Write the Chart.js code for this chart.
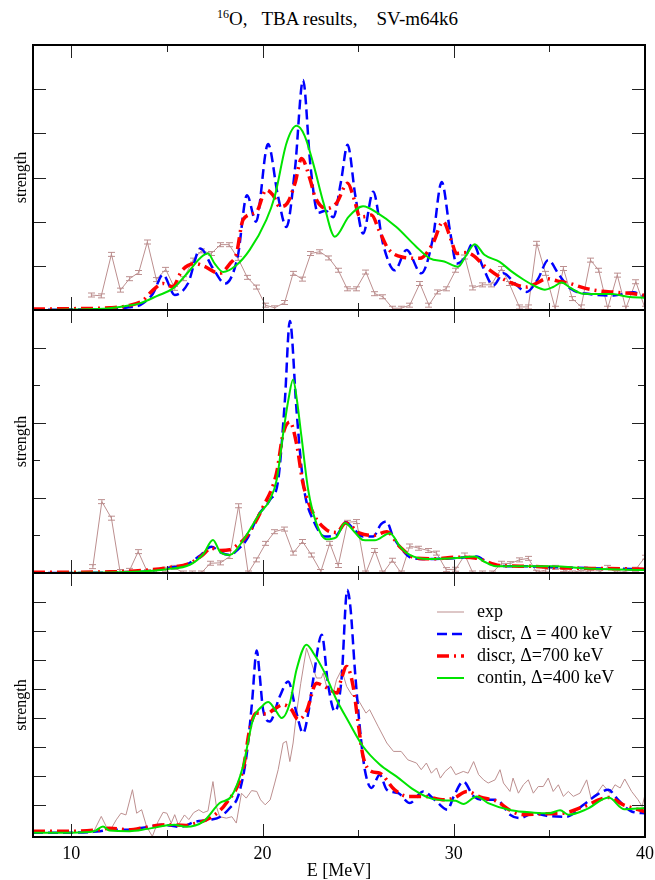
<!DOCTYPE html>
<html>
<head>
<meta charset="utf-8">
<script src="https://cdn.jsdelivr.net/npm/chart.js@4.4.0/dist/chart.umd.min.js"></script>
<style>
  body { margin: 0; background: #fff; }
  #wrap { position: relative; width: 655px; height: 880px; }
  #wrap canvas { position: absolute; left: 0; top: 0; }
  #title {
    position: absolute; left: 217px; top: 7px; white-space: pre;
    font: 19px "Liberation Serif", "Times New Roman", serif; color: #000;
  }
  #title sup { font-size: 12px; }
</style>
</head>
<body>
<div id="wrap">
  <div id="title"><sup>16</sup>O,   TBA results,    SV-m64k6</div>
  <canvas id="pTop" width="655" height="880"></canvas>
  <canvas id="pMid" width="655" height="880"></canvas>
  <canvas id="pBot" width="655" height="880"></canvas>
</div>
<script>
// axis ticks (MeV)
const xMajor = [10, 20, 30];
const xMinor = [15, 25, 35];
const xTickLabels = [10, 20, 30, 40];

// ---- top panel: [E, strength] ----
const topExp = [[11.05,0.34],[11.57,0.32],[12.1,1.26],[12.57,0.45],[13.05,0.71],[13.53,0.85],[13.98,1.54],[14.45,0.69],[14.94,0.92],[15.41,0.49],
  [15.87,0.71],[16.37,1.13],[16.8,1.34],[17.33,1.28],[17.8,1.48],[18.25,1.48],[18.72,1.17],[19.2,0.74],[19.68,0.52],[20.15,0.11],
  [20.64,0.05],[21.16,0.17],[21.6,0.83],[22.07,0.7],[22.53,1.28],[23.0,1.32],[23.47,1.18],[23.96,0.9],[24.43,0.48],[24.9,0.48],
  [25.41,0.86],[25.87,0.37],[26.3,0.3],[26.8,0.04],[27.25,0.04],[27.7,0.11],[28.23,0.6],[28.7,0.11],[29.15,0.41],[29.6,0.48],
  [30.1,0.9],[30.58,1.2],[31.0,0.5],[31.5,0.57],[31.95,0.57],[32.5,0.94],[32.9,0.6],[33.43,0.07],[33.9,0.07],[34.34,1.51],
  [34.8,0.83],[35.3,0.04],[35.73,0.94],[36.2,0.26],[36.66,0.07],[37.15,1.13],[37.58,0.9],[38.05,0.04],[38.55,0.79],[39.0,0.04],
  [39.52,0.64],[40.0,0.04]];
const topDiscr400 = [[8,0],[10,0.01],[12,0.02],[13,0.06],[13.6,0.11],[14.27,0.37],[14.8,0.8],[15.41,0.34],[16.1,0.6],[16.75,1.39],
  [17.4,0.95],[18.05,0.6],[18.7,1.2],[19.19,2.6],[19.66,2.0],[20.29,3.76],[20.8,2.6],[21.25,1.88],[21.7,3.2],[22.12,5.21],
  [22.5,3.3],[22.9,2.2],[23.3,2.25],[23.7,2.1],[24.1,2.9],[24.45,3.74],[24.85,2.6],[25.26,1.73],[25.79,2.68],[26.3,1.5],
  [26.92,0.9],[27.53,1.36],[28.3,0.83],[28.9,1.6],[29.37,2.9],[29.8,1.8],[30.15,1.05],[30.6,1.2],[31.0,1.51],[31.5,1.0],
  [32.07,0.56],[32.6,0.83],[33.2,0.6],[33.8,0.41],[34.4,0.7],[34.94,1.13],[35.5,0.8],[36.08,0.49],[37.1,0.36],[38.35,0.33],
  [39.4,0.4],[40,0.3]];
const topDiscr700 = [[8,0.02],[10,0.03],[12,0.05],[13,0.1],[13.75,0.22],[14.27,0.45],[14.8,0.6],[15.3,0.53],[15.8,0.9],[16.5,1.05],
  [16.9,1.0],[17.76,0.83],[18.3,1.05],[18.64,1.28],[18.98,2.04],[19.68,2.22],[20.2,2.72],[20.55,2.6],[20.9,2.34],[21.3,2.42],
  [21.7,2.87],[22.04,3.43],[22.5,2.94],[22.74,2.57],[23.35,2.3],[23.87,2.42],[24.45,2.87],[24.8,2.5],[25.09,2.11],[25.4,2.12],
  [25.7,2.15],[26.1,1.8],[26.57,1.39],[27.3,1.2],[28.23,1.17],[28.9,1.5],[29.45,2.0],[29.85,1.6],[30.15,1.28],[30.6,1.3],
  [31.0,1.24],[31.6,1.0],[32.4,0.75],[33.1,0.6],[33.8,0.52],[34.3,0.6],[34.86,0.71],[35.4,0.66],[36.08,0.6],[36.8,0.5],
  [37.48,0.44],[38.5,0.4],[39.4,0.37],[40,0.33]];
const topContin = [[8,0],[10,0.01],[12,0.04],[13,0.1],[13.58,0.15],[14.5,0.32],[15.32,0.49],[16.1,0.85],[16.8,1.2],[17.15,1.28],
  [17.5,1.05],[17.94,0.86],[18.6,1.0],[19.33,1.36],[20.2,2.04],[20.64,2.57],[21.25,3.77],[21.78,4.17],[22.2,3.95],[22.65,3.32],
  [23.2,2.41],[23.78,1.66],[24.5,2.11],[25.26,2.35],[26.0,2.2],[27.0,1.88],[28.0,1.45],[28.75,1.17],[29.5,1.1],[30.23,0.98],
  [30.6,1.2],[31.1,1.49],[31.6,1.25],[32.4,1.09],[33.0,0.88],[33.64,0.69],[34.2,0.55],[34.77,0.46],[35.2,0.52],[35.64,0.62],
  [36.1,0.5],[36.77,0.37],[38.3,0.36],[39.1,0.3],[40,0.28]];

// ---- middle panel ----
const midExp = [[11.13,0.17],[11.6,1.9],[12.1,1.46],[12.55,0.04],[13.05,0.07],[13.5,0.57],[13.97,0.04],[14.45,0.06],[14.94,0.1],[15.4,0.15],
  [15.85,0.0],[16.33,0.0],[16.8,0.0],[17.27,0.26],[17.8,0.27],[18.29,0.44],[18.75,1.79],[19.25,0.0],[19.68,0.35],[20.17,0.79],
  [20.64,1.1],[21.13,1.17],[21.6,0.53],[22.09,0.84],[22.56,0.48],[23.05,0.04],[23.52,0.79],[23.96,0.2],[24.45,1.35],[24.92,1.37],
  [25.4,0.0],[25.87,0.6],[26.3,0.0],[26.79,0.34],[27.25,0.0],[27.7,0.72],[28.18,0.66],[28.66,0.6],[29.1,0.53],[29.6,0.09],
  [30.1,0.1],[30.58,0.48],[31.0,0.0],[31.5,0.0],[32.0,0.0],[32.5,0.26],[32.95,0.25],[33.43,0.35],[33.9,0.39],[34.33,0.02],
  [34.8,0.08],[35.3,0.15],[35.75,0.09],[36.2,0.0],[36.65,0.08],[37.15,0.02],[37.6,0.02],[38.05,0.15],[38.55,0.0],[39.0,0.05],
  [39.52,0.1],[40.0,0.42]];
const midDiscr400 = [[8,0],[12,0.01],[14,0.05],[14.97,0.13],[16.0,0.22],[16.7,0.45],[17.33,0.7],[17.8,0.55],[18.29,0.48],[18.7,0.62],
  [19.16,0.88],[19.8,1.55],[20.38,1.94],[20.82,2.47],[21.17,4.59],[21.43,6.71],[21.78,4.33],[22.0,3.0],[22.21,2.12],[22.65,1.41],
  [23.26,0.97],[23.87,1.01],[24.35,1.35],[24.8,1.15],[25.26,0.97],[25.78,0.97],[26.2,1.3],[26.49,1.37],[26.8,1.0],[27.18,0.7],
  [27.8,0.4],[28.66,0.37],[29.5,0.38],[30.15,0.4],[30.7,0.42],[31.2,0.44],[31.7,0.3],[32.2,0.2],[33.5,0.18],[35,0.16],
  [37,0.13],[40,0.1]];
const midDiscr700 = [[8,0.02],[12,0.03],[14,0.08],[15.15,0.15],[16.2,0.26],[16.8,0.45],[17.33,0.66],[17.8,0.6],[18.29,0.62],[18.7,0.75],
  [19.16,0.97],[20.03,1.76],[20.73,2.65],[21.08,3.71],[21.43,4.02],[21.78,3.44],[22.12,2.38],[22.65,1.59],[23.35,1.15],[23.87,1.08],
  [24.35,1.33],[25.09,1.06],[25.8,1.0],[26.49,1.1],[27.18,0.7],[28.0,0.4],[29,0.38],[30.15,0.42],[31.1,0.4],[32.4,0.2],
  [33.8,0.18],[36,0.13],[38,0.12],[40,0.1]];
const midContin = [[8,0],[12,0.01],[14,0.05],[15,0.1],[16.2,0.22],[16.9,0.5],[17.41,0.88],[17.8,0.55],[18.29,0.48],[19.0,0.88],
  [19.86,1.59],[20.38,1.94],[20.75,2.5],[21.08,3.71],[21.35,4.6],[21.6,5.15],[21.8,4.6],[22.04,3.62],[22.39,2.21],[22.82,1.32],
  [23.35,0.9],[23.85,0.95],[24.31,1.33],[24.8,1.1],[25.26,0.88],[25.87,0.87],[26.66,1.06],[27.2,0.7],[27.7,0.48],[28.66,0.37],
  [30.15,0.4],[31.1,0.44],[31.6,0.3],[32.2,0.18],[35,0.18],[37.4,0.11],[40,0.08]];

// ---- bottom panel ----
const botExp = [[11.13,0.03],[11.57,0.61],[11.83,0.26],[12.1,0.2],[12.35,0.49],[12.6,0.72],[12.86,0.66],[13.2,1.53],[13.42,0.72],[13.68,0.84],
  [13.94,0.26],[14.24,-0.08],[14.54,0.43],[14.8,0.75],[15.0,0.72],[15.23,0.38],[15.41,0.67],[15.6,0.32],[15.92,0.66],[16.15,0.5],
  [16.4,0.74],[16.67,0.84],[16.9,0.74],[17.15,0.8],[17.41,1.81],[17.59,0.95],[17.76,0.6],[18.11,0.55],[18.4,0.6],[18.63,0.38],
  [18.9,1.41],[19.15,1.24],[19.43,1.5],[19.7,1.47],[19.9,1.18],[20.14,1.01],[20.4,1.18],[20.64,1.76],[20.82,2.22],[21.08,3.14],
  [21.25,3.2],[21.43,2.5],[21.6,3.14],[21.78,4.17],[22.0,5.2],[22.3,6.41],[22.56,5.9],[22.82,5.38],[23.08,5.38],[23.17,5.55],
  [23.35,5.09],[23.7,4.86],[23.87,5.32],[24.14,5.67],[24.4,5.09],[24.67,4.8],[24.93,4.69],[25.1,4.52],[25.41,4.17],[25.6,4.29],
  [26.04,3.72],[26.5,3.14],[26.85,2.85],[27.25,2.85],[27.6,2.56],[28.05,2.45],[28.3,2.22],[28.57,2.45],[28.83,2.1],[29.1,2.28],
  [29.3,1.93],[29.55,2.16],[29.85,2.33],[30.1,2.05],[30.5,2.16],[30.75,2.1],[31.04,2.5],[31.3,2.05],[31.56,1.87],[31.8,1.76],
  [32.16,1.87],[32.42,2.22],[32.6,1.76],[32.94,1.47],[33.1,1.93],[33.38,1.41],[33.64,1.7],[33.9,1.87],[34.16,1.41],[34.42,1.64],
  [34.68,1.64],[34.94,1.93],[35.2,1.47],[35.47,1.7],[35.73,1.3],[35.99,1.47],[36.25,1.3],[36.6,1.41],[36.95,1.87],[37.2,1.18],
  [37.56,1.47],[37.8,1.7],[38.17,1.41],[38.43,1.7],[38.7,1.59],[38.94,1.9],[39.3,1.47],[39.64,1.18],[39.85,0.95],[40.0,1.36]];
const botDiscr400 = [[8,0.05],[10,0.05],[11.5,0.1],[12,0.15],[13,0.15],[14,0.25],[14.8,0.32],[15.7,0.25],[16.5,0.43],[17.24,0.49],
  [17.8,0.6],[18.29,0.9],[18.72,1.3],[19.16,2.68],[19.45,4.52],[19.7,6.33],[19.85,5.5],[20.03,4.29],[20.38,3.88],[20.9,4.74],
  [21.34,5.26],[21.78,4.17],[22.12,3.48],[22.4,4.2],[22.65,5.32],[23.1,6.87],[23.43,5.15],[23.78,4.23],[24.13,5.32],[24.43,8.42],
  [24.6,7.8],[24.83,5.67],[25.1,3.6],[25.35,2.22],[25.7,1.59],[26.13,2.05],[26.5,1.53],[27.1,1.41],[27.7,1.07],[28.4,1.47],
  [29.0,1.18],[29.67,0.84],[30.0,1.3],[30.5,1.81],[31.04,1.3],[31.6,1.18],[32.25,1.18],[32.94,0.67],[33.46,0.55],[34.16,0.72],
  [34.85,0.63],[35.9,0.6],[36.77,1.0],[37.5,1.36],[38.08,1.53],[38.6,1.18],[39.3,0.78],[40,0.72]];
const botDiscr700 = [[8,0.1],[10,0.1],[11.5,0.15],[12,0.2],[13,0.15],[14,0.25],[15,0.32],[16,0.3],[16.5,0.37],[17.24,0.55],
  [18.11,1.07],[18.98,2.22],[19.33,3.6],[19.68,4.17],[20.2,4.14],[20.6,4.3],[21.08,4.46],[21.5,4.3],[21.87,3.95],[22.3,4.23],
  [22.82,5.2],[23.2,5.1],[23.52,4.98],[23.9,4.86],[24.1,5.3],[24.4,5.78],[24.74,5.09],[25.0,3.83],[25.26,2.68],[25.7,2.16],
  [26.13,2.1],[26.9,1.53],[27.6,1.3],[28.44,1.3],[29.5,1.18],[30.0,1.24],[30.7,1.47],[31.4,1.27],[32.25,1.13],[32.94,0.82],
  [33.64,0.67],[34.6,0.7],[35.73,0.72],[36.8,0.95],[38.1,1.26],[38.9,1.0],[40,0.78]];
const botContin = [[8,0.05],[10,0.05],[11.2,0.1],[11.66,0.26],[12.0,0.12],[13.05,0.1],[14.0,0.18],[15.4,0.32],[16.0,0.25],[16.9,0.43],
  [17.76,1.07],[18.37,1.3],[18.98,2.33],[19.5,3.94],[20.0,4.42],[20.3,4.55],[20.65,4.3],[21.0,4.0],[21.43,4.52],[21.78,5.67],
  [22.3,6.53],[22.7,6.2],[23.17,5.67],[23.87,4.63],[24.48,3.9],[25.26,3.02],[26.13,2.4],[27.0,1.99],[27.9,1.53],[28.75,1.24],
  [29.6,1.16],[30.1,1.15],[30.5,1.04],[31.2,1.3],[31.8,1.07],[33.0,0.82],[34.2,0.74],[35.0,0.72],[35.56,0.82],[36.0,0.67],
  [36.95,0.86],[38.1,1.26],[38.9,0.86],[40,0.9]];

const legendLabels = ['exp', 'discr, \u0394 = 400 keV', 'discr, \u0394=700 keV', 'contin, \u0394=400 keV'];

const SERIF = '"Liberation Serif", "Times New Roman", serif';
const EXP_COLOR = '#bc8f8f';

// little "I" shaped error-bar marker for the exp points
function capMarker(color) {
  const c = document.createElement('canvas');
  c.width = 7; c.height = 7;
  const g = c.getContext('2d');
  g.strokeStyle = color;
  g.lineWidth = 1;
  g.beginPath();
  g.moveTo(0, 1.5); g.lineTo(7, 1.5);
  g.moveTo(0, 5.5); g.lineTo(7, 5.5);
  g.moveTo(3.5, 1.5); g.lineTo(3.5, 5.5);
  g.stroke();
  return c;
}
const capImg = capMarker(EXP_COLOR);

const toXY = arr => arr.map(p => ({ x: p[0], y: p[1] }));

function seriesSets(exp, d400, d700, cont, markers) {
  return [
    { label: legendLabels[3], data: toXY(cont), borderColor: '#00e400', borderWidth: 2,
      pointRadius: 0, cubicInterpolationMode: 'monotone' },
    { label: legendLabels[2], data: toXY(d700), borderColor: '#ff0000', borderWidth: 3.5,
      borderDash: [12, 5, 2, 5], pointRadius: 0, cubicInterpolationMode: 'monotone' },
    { label: legendLabels[1], data: toXY(d400), borderColor: '#0000ff', borderWidth: 2.5,
      borderDash: [10, 5], pointRadius: 0, cubicInterpolationMode: 'monotone' },
    { label: legendLabels[0], data: toXY(exp), borderColor: EXP_COLOR, borderWidth: 1, tension: 0,
      pointRadius: markers ? 3 : 0, pointStyle: markers ? capImg : 'circle' }
  ];
}

// frame, inward ticks, y title (and x labels on the last panel)
const panelFrame = {
  id: 'panelFrame',
  afterDraw(chart, args, opts) {
    const { ctx, chartArea: a, scales: { x, y } } = chart;
    const seg = (x1, y1, x2, y2) => { ctx.beginPath(); ctx.moveTo(x1, y1); ctx.lineTo(x2, y2); ctx.stroke(); };
    ctx.save();
    ctx.strokeStyle = '#222';
    ctx.lineWidth = 1;
    xMajor.forEach(v => {
      const px = Math.round(x.getPixelForValue(v)) + 0.5;
      seg(px, a.top, px, a.top + 13);
      seg(px, a.bottom, px, a.bottom - 13);
    });
    xMinor.forEach(v => {
      const px = Math.round(x.getPixelForValue(v)) + 0.5;
      seg(px, a.top, px, a.top + 7);
      seg(px, a.bottom, px, a.bottom - 7);
    });
    opts.yTicks.forEach((v, i) => {
      const py = Math.round(y.getPixelForValue(v)) + 0.5;
      const len = opts.yLong[i] ? 13 : 7;
      seg(a.left, py, a.left + len, py);
      seg(a.right, py, a.right - len, py);
    });
    ctx.strokeStyle = '#000';
    ctx.lineWidth = 2;
    ctx.strokeRect(a.left, a.top, a.right - a.left, a.bottom - a.top);

    ctx.fillStyle = '#000';
    ctx.font = '16px ' + SERIF;
    ctx.textAlign = 'center';
    ctx.textBaseline = 'middle';
    ctx.save();
    ctx.translate(22, (a.top + a.bottom) / 2);
    ctx.rotate(-Math.PI / 2);
    ctx.fillText('strength', 0, 0);
    ctx.restore();

    if (opts.xAxis) {
      ctx.font = '18px ' + SERIF;
      ctx.textBaseline = 'alphabetic';
      xTickLabels.forEach(v => ctx.fillText(String(v), x.getPixelForValue(v), a.bottom + 22));
      ctx.fillText('E [MeV]', (a.left + a.right) / 2, a.bottom + 39);
    }
    ctx.restore();
  }
};

// legend drawn inside the last panel
const insideLegend = {
  id: 'insideLegend',
  afterDraw(chart, args, opts) {
    if (!opts.show) return;
    const ctx = chart.ctx;
    const sets = chart.data.datasets.slice().reverse();
    ctx.save();
    ctx.font = '18px ' + SERIF;
    ctx.fillStyle = '#000';
    ctx.textBaseline = 'middle';
    ctx.textAlign = 'left';
    sets.forEach((ds, i) => {
      const yy = 612 + i * 22;
      ctx.strokeStyle = ds.borderColor;
      ctx.lineWidth = ds.borderWidth;
      ctx.setLineDash(ds.borderDash || []);
      ctx.beginPath();
      ctx.moveTo(437, yy);
      ctx.lineTo(464, yy);
      ctx.stroke();
      ctx.fillText(ds.label, 477, yy);
    });
    ctx.restore();
  }
};

function makePanel(id, pad, yMin, yMax, yTicks, yLong, sets, isLast) {
  return new Chart(document.getElementById(id), {
    type: 'line',
    data: { datasets: sets },
    plugins: [panelFrame, insideLegend],
    options: {
      responsive: false,
      animation: false,
      devicePixelRatio: 1,
      layout: { padding: { left: 33, right: 10, top: pad[0], bottom: pad[1] } },
      scales: {
        x: { type: 'linear', min: 8, max: 40, display: false },
        y: { min: yMin, max: yMax, display: false }
      },
      plugins: {
        legend: { display: false },
        tooltip: { enabled: false },
        panelFrame: { yTicks: yTicks, yLong: yLong, xAxis: isLast },
        insideLegend: { show: isLast }
      }
    }
  });
}

makePanel('pTop', [45, 570], 0, 6, [1, 2, 3, 4, 5], [1, 1, 1, 1, 1],
  seriesSets(topExp, topDiscr400, topDiscr700, topContin, true), false);
makePanel('pMid', [310, 307], 0, 7, [1, 2, 3, 4, 5, 6], [0, 1, 0, 1, 0, 1],
  seriesSets(midExp, midDiscr400, midDiscr700, midContin, true), false);
makePanel('pBot', [573, 43], -0.1, 9, [1, 2, 3, 4, 5, 6, 7, 8], [1, 1, 1, 1, 1, 1, 1, 1],
  seriesSets(botExp, botDiscr400, botDiscr700, botContin, false), true);
</script>
</body>
</html>
